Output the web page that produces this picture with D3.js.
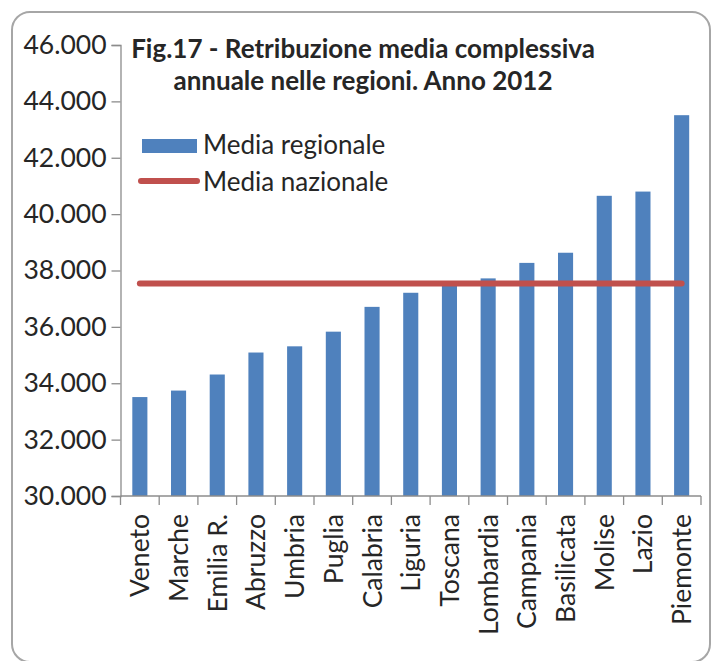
<!DOCTYPE html>
<html>
<head>
<meta charset="utf-8">
<script src="https://cdn.jsdelivr.net/npm/d3@7"></script>
<style>
  html, body { margin: 0; padding: 0; background: #fff; }
  svg { display: block; }
  text { font-family: Lato, "Open Sans", sans-serif; fill: #262626; }
</style>
</head>
<body>
<svg id="chart" width="711" height="661"></svg>
<script>
// Retribuzione media complessiva annuale per regione, anno 2012 (euro)
const regioni = ["Veneto", "Marche", "Emilia R.", "Abruzzo", "Umbria", "Puglia", "Calabria",
  "Liguria", "Toscana", "Lombardia", "Campania", "Basilicata", "Molise", "Lazio", "Piemonte"];
const mediaRegionale = [33510, 33740, 34310, 35090, 35310, 35830, 36710,
  37210, 37500, 37720, 38270, 38630, 40650, 40800, 43510];
const mediaNazionale = [37540, 37540, 37540, 37540, 37540, 37540, 37540,
  37540, 37540, 37540, 37540, 37540, 37540, 37540, 37540];
const yTicks = [30000, 32000, 34000, 36000, 38000, 40000, 42000, 44000, 46000];
const titolo = ["Fig.17 - Retribuzione media complessiva", "annuale nelle regioni. Anno 2012"];
const legenda = ["Media regionale", "Media nazionale"];

const BLUE = "#4f81bd", RED = "#c0504d", AXIS = "#8c8c8c";
const svg = d3.select("#chart");

// outer frame
svg.append("rect")
  .attr("x", 12).attr("y", 12).attr("width", 698).attr("height", 650)
  .attr("rx", 18).attr("ry", 18)
  .attr("fill", "#fff").attr("stroke", "#a6a6a6").attr("stroke-width", 2);

const plot = { left: 120.5, right: 701, top: 45, bottom: 496 };

const x = d3.scaleBand()
  .domain(regioni)
  .range([plot.left, plot.right])
  .paddingInner(0.61)
  .paddingOuter(0.305);

const y = d3.scaleLinear()
  .domain([30000, 46000])
  .range([plot.bottom, plot.top]);

const fmt = v => d3.format(",.3f")(v / 1000).replace(",", "");

// y axis
const yAxis = svg.append("g")
  .attr("transform", `translate(${plot.left},0)`)
  .call(d3.axisLeft(y).tickValues(yTicks).tickSize(9).tickPadding(5)
    .tickFormat(fmt));
yAxis.select(".domain").attr("stroke", AXIS).attr("stroke-width", 1.3);
yAxis.selectAll(".tick line").attr("stroke", AXIS).attr("stroke-width", 1.3);
yAxis.selectAll(".tick text")
  .attr("font-size", 26.5).attr("fill", "#262626")
  .style("font-family", "Lato, sans-serif");

// bars
svg.append("g").selectAll("rect")
  .data(regioni)
  .join("rect")
  .attr("x", d => x(d))
  .attr("width", x.bandwidth())
  .attr("y", (d, i) => y(mediaRegionale[i]))
  .attr("height", (d, i) => y(30000) - y(mediaRegionale[i]))
  .attr("fill", BLUE);

// x axis: baseline with ticks on the category boundaries
const xg = svg.append("g");
xg.append("line")
  .attr("x1", plot.left).attr("x2", plot.right)
  .attr("y1", y(30000)).attr("y2", y(30000))
  .attr("stroke", AXIS).attr("stroke-width", 1.3);
const bounds = regioni.map(d => x(d) + x.bandwidth() / 2 - x.step() / 2)
  .concat([x(regioni[regioni.length - 1]) + x.bandwidth() / 2 + x.step() / 2]);
xg.selectAll("line.tk")
  .data(bounds)
  .join("line")
  .attr("class", "tk")
  .attr("x1", d => d).attr("x2", d => d)
  .attr("y1", y(30000)).attr("y2", y(30000) + 9)
  .attr("stroke", AXIS).attr("stroke-width", 1.3);
xg.selectAll("text")
  .data(regioni)
  .join("text")
  .attr("transform", d => `translate(${x(d) + x.bandwidth() / 2},${y(30000) + 18}) rotate(-90)`)
  .attr("text-anchor", "end")
  .attr("dy", "0.36em")
  .attr("font-size", 26.5)
  .text(d => d);

// national average line
const line = d3.line()
  .x((d, i) => x(regioni[i]) + x.bandwidth() / 2)
  .y(d => y(d));
svg.append("path")
  .datum(mediaNazionale)
  .attr("d", line)
  .attr("fill", "none")
  .attr("stroke", RED)
  .attr("stroke-width", 6)
  .attr("stroke-linecap", "round");

// title
svg.append("g").selectAll("text")
  .data(titolo)
  .join("text")
  .attr("x", 363)
  .attr("y", (d, i) => 58 + i * 32)
  .attr("text-anchor", "middle")
  .attr("font-size", 26)
  .attr("font-weight", "bold")
  .text(d => d);

// legend
const lg = svg.append("g");
lg.append("rect")
  .attr("x", 142).attr("y", 139).attr("width", 55).attr("height", 14)
  .attr("fill", BLUE);
lg.append("line")
  .attr("x1", 141).attr("x2", 197).attr("y1", 181).attr("y2", 181)
  .attr("stroke", RED).attr("stroke-width", 6).attr("stroke-linecap", "round");
lg.selectAll("text")
  .data(legenda)
  .join("text")
  .attr("x", 203)
  .attr("y", (d, i) => 145 + i * 37)
  .attr("dy", "0.36em")
  .attr("font-size", 26)
  .text(d => d);
</script>
</body>
</html>
